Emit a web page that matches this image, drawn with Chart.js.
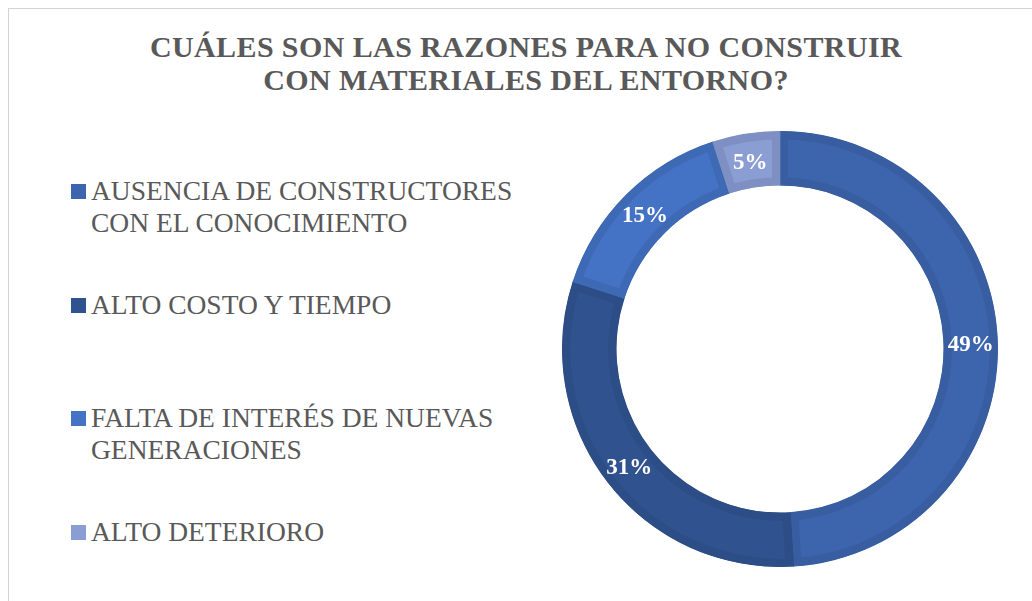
<!DOCTYPE html>
<html lang="es">
<head>
    <meta charset="UTF-8">
    <title>Razones para no construir con materiales del entorno</title>
    <style>
        body {
            margin: 0;
            padding: 0;
            background: #fff;
            overflow: hidden;
            font-family: "Liberation Serif", "DejaVu Serif", serif;
        }

        .frame {
            position: absolute;
            left: 8px;
            top: 8px;
            width: 1030px;
            height: 600px;
            border-top: 1px solid #d3d3d3;
            border-left: 1px solid #d3d3d3;
        }

        .title {
            position: absolute;
            left: 18px;
            top: 30px;
            width: 1016px;
            text-align: center;
            font-weight: bold;
            font-size: 30px;
            line-height: 33px;
            letter-spacing: 0.4px;
            color: #595959;
        }

        .chart-box {
            position: absolute;
            left: 562px;
            top: 131px;
            width: 436px;
            height: 436px;
        }

        #legend {
            position: absolute;
            left: 71px;
            top: 175px;
            margin: 0;
            padding: 0;
            list-style: none;
        }

        #legend li {
            position: relative;
            padding-left: 20px;
            font-size: 27.5px;
            line-height: 32px;
            color: #595959;
        }

        #legend li .box {
            position: absolute;
            left: 0;
            top: 9px;
            width: 15px;
            height: 15px;
        }

        #legend li:nth-child(2) { margin-top: 50px; }
        #legend li:nth-child(3) { margin-top: 81px; }
        #legend li:nth-child(4) { margin-top: 50px; }
    </style>
</head>
<body>
    <div class="frame"></div>
    <div class="title">CUÁLES SON LAS RAZONES PARA NO CONSTRUIR<br>CON MATERIALES DEL ENTORNO?</div>
    <ul id="legend"></ul>
    <div class="chart-box">
        <canvas id="donut"></canvas>
    </div>

    <script src="https://cdn.jsdelivr.net/npm/chart.js@4.4.1/dist/chart.umd.min.js"></script>
    <script>
        // data (percent of answers)
        const labels = [
            ['AUSENCIA DE CONSTRUCTORES', 'CON EL CONOCIMIENTO'],
            ['ALTO COSTO Y TIEMPO'],
            ['FALTA DE INTERÉS DE NUEVAS', 'GENERACIONES'],
            ['ALTO DETERIORO']
        ];
        const values = [49, 31, 15, 5];

        const fillColors = ['#3C65AE', '#30538F', '#4472C4', '#8B9ED3'];
        const edgeColors = ['#385EA1', '#2C4D85', '#3E69B5', '#7D8FC3'];

        // white percent labels in the middle of the ring
        const percentLabels = {
            id: 'percentLabels',
            afterDatasetsDraw(chart) {
                const ctx = chart.ctx;
                const meta = chart.getDatasetMeta(0);
                const data = chart.data.datasets[0].data;
                const total = data.reduce((a, b) => a + b, 0);
                ctx.save();
                ctx.font = 'bold 23px "Liberation Serif", serif';
                ctx.fillStyle = '#ffffff';
                ctx.textAlign = 'center';
                ctx.textBaseline = 'middle';
                meta.data.forEach((arc, i) => {
                    const pos = arc.tooltipPosition();
                    const pct = Math.round(data[i] / total * 100) + '%';
                    ctx.fillText(pct, pos.x, pos.y + 2);
                });
                ctx.restore();
            }
        };

        const ctx = document.getElementById('donut').getContext('2d');
        const donut = new Chart(ctx, {
            type: 'doughnut',
            data: {
                labels: labels.map(l => l.join(' ')),
                datasets: [{
                    data: values,
                    backgroundColor: fillColors,
                    borderColor: edgeColors,
                    borderWidth: 8,
                    borderAlign: 'inner'
                }]
            },
            options: {
                responsive: true,
                maintainAspectRatio: false,
                animation: false,
                cutout: '75%',
                rotation: 0,
                layout: { padding: 0 },
                plugins: {
                    legend: { display: false },
                    tooltip: { enabled: false },
                    title: { display: false }
                }
            },
            plugins: [percentLabels]
        });

        // html legend built from the chart data
        const legendEl = document.getElementById('legend');
        labels.forEach((lines, i) => {
            const li = document.createElement('li');
            const box = document.createElement('span');
            box.className = 'box';
            box.style.background = donut.data.datasets[0].backgroundColor[i];
            li.appendChild(box);
            lines.forEach((line, j) => {
                if (j > 0) li.appendChild(document.createElement('br'));
                li.appendChild(document.createTextNode(line));
            });
            legendEl.appendChild(li);
        });
    </script>
</body>
</html>
